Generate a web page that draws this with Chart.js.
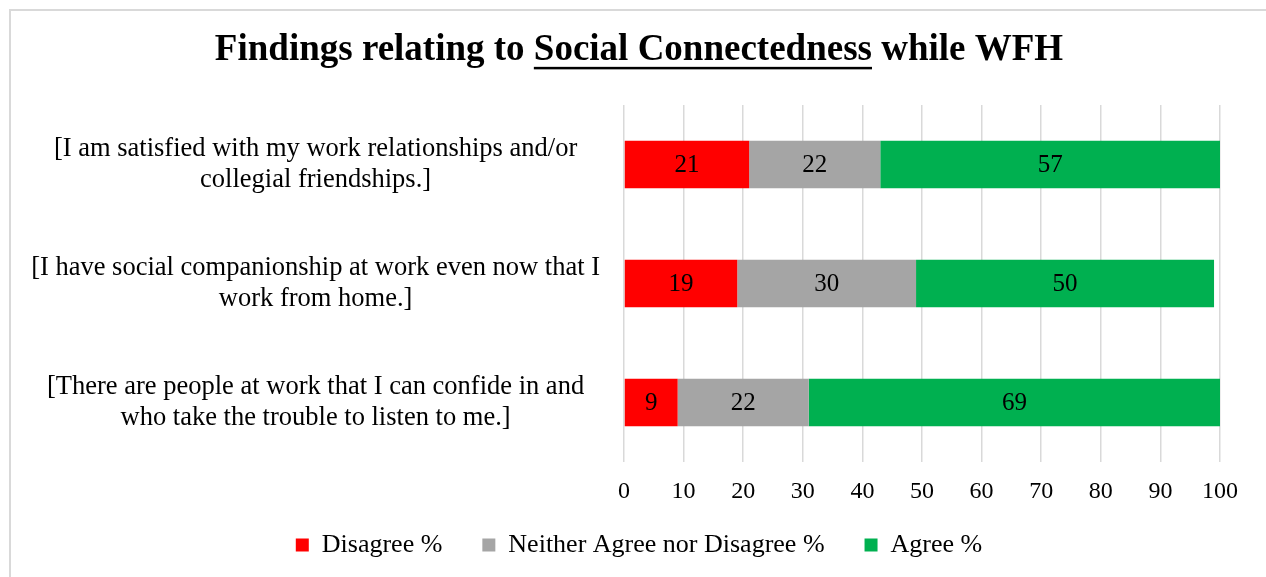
<!DOCTYPE html>
<html>
<head>
<meta charset="utf-8">
<title>Social Connectedness while WFH</title>
<script src="https://cdn.jsdelivr.net/npm/chart.js@4/dist/chart.umd.min.js"></script>
<style>
  html, body { margin: 0; padding: 0; background: #ffffff; }
  #wrap { position: relative; width: 1266px; height: 577px; overflow: hidden; }
  #frame {
    position: absolute; left: 9px; top: 9px; width: 1300px; height: 620px;
    border-left: 2px solid #d9d9d9; border-top: 2px solid #d9d9d9;
    pointer-events: none;
  }
  canvas { position: absolute; left: 0; top: 0; }
</style>
</head>
<body>
<div id="wrap">
  <canvas id="socialChart" width="1266" height="577"></canvas>
  <div id="frame"></div>
</div>
<script>
// survey statements (one per bar, top to bottom)
const statements = [
    ['[I am satisfied with my work relationships and/or', 'collegial friendships.]'],
    ['[I have social companionship at work even now that I', 'work from home.]'],
    ['[There are people at work that I can confide in and', 'who take the trouble to listen to me.]']
];

// percentages per response
const disagree = [21, 19, 9];
const neither = [22, 30, 22];
const agree = [57, 50, 69];

const xTicks = [0, 10, 20, 30, 40, 50, 60, 70, 80, 90, 100];

const titleText = 'Findings relating to Social Connectedness while WFH';
const underlinedPart = 'Social Connectedness';

const serif = "'Liberation Serif', 'Times New Roman', serif";

// writes each segment's value in the middle of the bar
const valueLabels = {
    id: 'valueLabels',
    afterDatasetsDraw(chart) {
        const ctx = chart.ctx;
        ctx.save();
        ctx.font = '25px ' + serif;
        ctx.fillStyle = '#000000';
        ctx.textAlign = 'center';
        ctx.textBaseline = 'middle';
        chart.data.datasets.forEach((ds, i) => {
            const meta = chart.getDatasetMeta(i);
            meta.data.forEach((bar, j) => {
                const p = bar.getCenterPoint();
                ctx.fillText(String(ds.data[j]), p.x, p.y + 1);
            });
        });
        ctx.restore();
    }
};

// title and legend are centred on the whole frame, not on the padded box
const centreHeader = {
    id: 'centreHeader',
    afterLayout(chart) {
        [chart.titleBlock, chart.legend].forEach(box => {
            if (!box) return;
            box.left = 12;
            box.right = chart.width;
        });
    }
};

// underline under part of the title
const titleUnderline = {
    id: 'titleUnderline',
    afterDraw(chart) {
        const block = chart.titleBlock;
        if (!block) return;
        const opts = chart.options.plugins.title;
        const ctx = chart.ctx;
        ctx.save();
        ctx.font = 'bold ' + opts.font.size + 'px ' + serif;
        const full = ctx.measureText(titleText).width;
        const before = ctx.measureText(titleText.slice(0, titleText.indexOf(underlinedPart))).width;
        const part = ctx.measureText(underlinedPart).width;
        const cx = (block.left + block.right) / 2;
        const x0 = cx - full / 2 + before;
        const midY = block.top + opts.padding.top + opts.font.size * opts.font.lineHeight / 2;
        const y = midY + opts.font.size * 0.45;
        ctx.fillStyle = '#000000';
        ctx.fillRect(x0, y, part, 2.5);
        ctx.restore();
    }
};

const ctx = document.getElementById('socialChart').getContext('2d');
new Chart(ctx, {
    type: 'bar',
    data: {
        labels: statements,
        datasets: [
            { label: 'Disagree %', data: disagree, backgroundColor: '#ff0000' },
            { label: 'Neither Agree nor Disagree %', data: neither, backgroundColor: '#a5a5a5' },
            { label: 'Agree %', data: agree, backgroundColor: '#00b050' }
        ]
    },
    options: {
        indexAxis: 'y',
        responsive: false,
        animation: false,
        events: [],
        layout: { padding: { left: 12, right: 46, top: 0, bottom: 9 } },
        datasets: {
            bar: { categoryPercentage: 1, barPercentage: 0.4, borderWidth: 0 }
        },
        scales: {
            x: {
                stacked: true,
                min: 0,
                max: 100,
                afterBuildTicks: axis => { axis.ticks = xTicks.map(v => ({ value: v })); },
                // mirrored numbers pushed back below the grid; the invisible
                // tick length keeps the axis box 30px high
                grid: { color: '#d9d9d9', lineWidth: 1.5, drawTicks: true, tickLength: 90, tickColor: 'rgba(0,0,0,0)' },
                border: { display: false },
                ticks: {
                    color: '#000000',
                    padding: -30,
                    mirror: true,
                    font: { family: serif, size: 24, lineHeight: 0.02 }
                }
            },
            y: {
                stacked: true,
                afterFit: axis => { axis.width = 612; },
                grid: { display: false },
                border: { display: false },
                ticks: {
                    color: '#000000',
                    padding: 16,
                    crossAlign: 'center',
                    font: { family: serif, size: 26.5, lineHeight: 1.2 }
                }
            }
        },
        plugins: {
            title: {
                display: true,
                text: titleText,
                color: '#000000',
                font: { family: serif, size: 37, weight: 'bold', lineHeight: 1.2 },
                padding: { top: 28, bottom: 32.6 }
            },
            legend: {
                position: 'bottom',
                labels: {
                    color: '#000000',
                    boxWidth: 13,
                    boxHeight: 13,
                    padding: 40,
                    font: { family: serif, size: 26 }
                }
            },
            tooltip: { enabled: false }
        }
    },
    plugins: [valueLabels, centreHeader, titleUnderline]
});
</script>
</body>
</html>
